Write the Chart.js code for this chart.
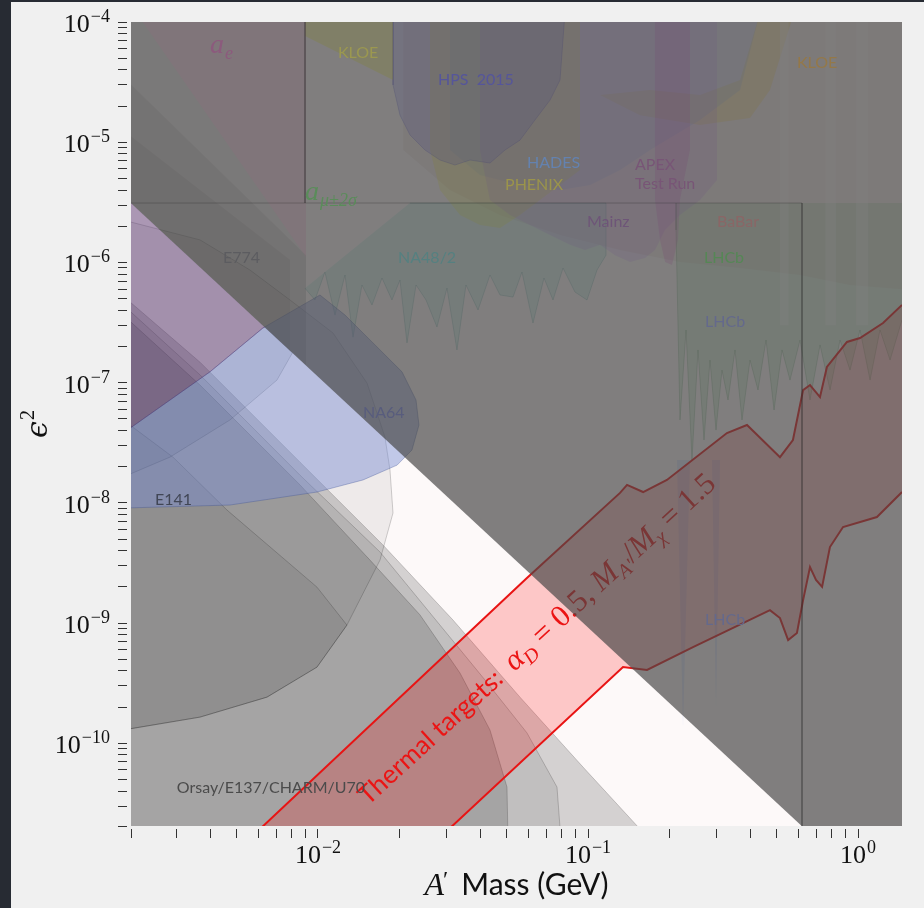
<!DOCTYPE html>
<html>
<head>
<meta charset="utf-8">
<script src="https://cdn.jsdelivr.net/npm/chart.js@4.4.1/dist/chart.umd.min.js"></script>
<style>
  html, body { margin: 0; padding: 0; background: #272b33; }
  #wrap { position: absolute; left: 11px; top: 2px; width: 913px; height: 906px; background: #f0f0f0; }
</style>
</head>
<body>
<div id="wrap"><canvas id="chart" width="913" height="906"></canvas></div>
<script>
// axis ranges (GeV, epsilon^2)
const xMin = 0.00203, xMax = 1.455;
const yMin = 2.05e-11, yMax = 1e-4;

// tick positions
const xTickExps = [-3, -2, -1, 0];
const yTickExps = [-11, -10, -9, -8, -7, -6, -5, -4];
const minorSteps = [1, 2, 3, 4, 5, 6, 7, 8, 9];
const xLabelExps = [-2, -1, 0];
const yLabelExps = [-10, -9, -8, -7, -6, -5, -4];

// upper excluded regions (under the shading)
const babar = [[0.0207,8.61e-6],[0.03083,4.0e-6],[0.04721,2.48e-6],[0.07877,1.69e-6],[0.1314,1.27e-6],[0.2191,1.01e-6],[0.3656,8.98e-7],[0.6097,7.86e-7],[0.9341,6.49e-7],[1.6,5.89e-7],[1.6,1.2e-4],[0.0207,1.2e-4]];
const na48 = [[0.008952,6.1e-7],[0.009747,4.87e-7],[0.01061,8.32e-7],[0.01156,3.65e-7],[0.01259,7.86e-7],[0.01348,2.39e-7],[0.01455,6.49e-7],[0.01585,4.42e-7],[0.01726,7.42e-7],[0.01879,4.87e-7],[0.02012,7.14e-7],[0.02136,2.14e-7],[0.02307,6.49e-7],[0.02512,4.87e-7],[0.02758,2.90e-7],[0.03004,6.12e-7],[0.03271,1.87e-7],[0.03532,6.49e-7],[0.03915,4.02e-7],[0.04335,7.86e-7],[0.04721,5.36e-7],[0.05275,5.15e-7],[0.05695,8.32e-7],[0.06255,3.13e-7],[0.06871,7.42e-7],[0.0742,4.87e-7],[0.08081,8.98e-7],[0.0895,5.67e-7],[0.09915,4.87e-7],[0.108,8.65e-7],[0.1166,1.15e-6],[0.1166,3.12e-6],[0.02191,3.12e-6]];
const lhcb = [[0.2118,3.12e-6],[0.2118,1.86e-6],[0.2191,4.89e-8],[0.2307,2.74e-7],[0.2427,2.27e-8],[0.2555,1.87e-7],[0.2689,3.33e-8],[0.2830,1.54e-7],[0.2979,4.03e-8],[0.3135,1.27e-7],[0.3300,7.17e-8],[0.3503,1.87e-7],[0.3718,4.89e-8],[0.3981,1.54e-7],[0.4262,8.68e-8],[0.4564,2.26e-7],[0.4886,5.92e-8],[0.5231,1.87e-7],[0.5598,1.05e-7],[0.6097,2.26e-7],[0.6640,7.17e-8],[0.7234,2.06e-7],[0.7877,8.68e-8],[0.8577,2.26e-7],[0.9341,1.27e-7],[1.017,2.74e-7],[1.108,1.05e-7],[1.206,2.74e-7],[1.314,1.54e-7],[1.455,3.32e-7],[1.6,3.32e-7],[1.6,3.12e-6]];
const lhcbLowA = [[0.2136,2.27e-8],[0.2248,1.37e-10],[0.2386,2.27e-8]];
const lhcbLowB = [[0.2879,2.27e-8],[0.2979,2.0e-10],[0.3083,2.27e-8]];
const kloeRight = [[0.1108,2.47e-5],[0.1558,1.68e-5],[0.26,1.39e-5],[0.3981,1.59e-5],[0.4721,2.72e-5],[0.58,1.2e-4],[0.4335,1.2e-4],[0.3656,3.29e-5],[0.26,2.47e-5],[0.1697,2.72e-5]];
const hades = [[0.03083,1.2e-4],[0.03083,8.61e-6],[0.03981,5.34e-6],[0.05598,4.40e-6],[0.07877,4.0e-6],[0.1017,4.40e-6],[0.1314,5.87e-6],[0.1697,8.61e-6],[0.26,1.53e-5],[0.3656,2.72e-5],[0.4335,1.2e-4]];
const phenix = [[0.026,1.2e-4],[0.026,8.61e-6],[0.0283,4.0e-6],[0.03357,2.48e-6],[0.03981,2.05e-6],[0.04721,1.93e-6],[0.05598,2.48e-6],[0.0664,3.3e-6],[0.09341,5.87e-6],[0.09341,1.2e-4]];
const mainz = [[0.03981,1.2e-4],[0.03981,8.61e-6],[0.04335,3.30e-6],[0.05141,2.48e-6],[0.06097,2.05e-6],[0.07234,1.69e-6],[0.08577,1.40e-6],[0.09747,1.27e-6],[0.1108,1.40e-6],[0.1259,1.15e-6],[0.1431,1.01e-6],[0.1626,1.09e-6],[0.1770,1.27e-6],[0.1929,1.86e-6],[0.2191,2.48e-6],[0.26,3.30e-6],[0.3004,4.85e-6],[0.3004,1.2e-4]];
const apex = [[0.1770,1.2e-4],[0.1770,3.30e-6],[0.1848,1.54e-6],[0.1929,1.01e-6],[0.2047,9.51e-7],[0.2154,1.54e-6],[0.2191,3.30e-6],[0.2386,8.61e-6],[0.2386,1.2e-4]];
const hps = [[0.01896,1.2e-4],[0.01896,2.99e-5],[0.02012,1.68e-5],[0.02191,1.15e-5],[0.0249,8.61e-6],[0.0283,7.11e-6],[0.03216,6.46e-6],[0.03656,7.11e-6],[0.04335,6.71e-6],[0.04928,8.61e-6],[0.05598,1.04e-5],[0.06362,1.53e-5],[0.07234,2.24e-5],[0.07877,3.29e-5],[0.0822,1.2e-4]];
const kloeLeft = [[0.008952,1.2e-4],[0.01896,1.2e-4],[0.01896,3.29e-5],[0.008952,7.65e-5]];
const stripA = [[0.514,1.2e-4],[0.514,3.0e-7],[0.553,3.0e-7],[0.553,1.2e-4]];
const stripB = [[0.757,1.2e-4],[0.757,3.0e-7],[0.828,3.0e-7],[0.828,1.2e-4]];
const stripC = [[0.984,1.2e-4],[0.984,3.0e-7],[1.09,3.0e-7],[1.09,1.2e-4]];
const aE = [[0.00212,1.2e-4],[0.009028,1.2e-4],[0.009028,1.11e-6]];
const tlA = [[0.0019,1.2e-4],[0.00212,1.2e-4],[0.009028,1.11e-6],[0.009028,1.40e-7],[0.0019,3.58e-6]];
const tlB = [[0.0019,3.49e-5],[0.009028,1.15e-6],[0.009028,1.40e-7],[0.0019,3.58e-6]];
const tlC = [[0.0019,1.26e-5],[0.007877,1.05e-6],[0.007877,1.83e-7],[0.0019,3.58e-6]];

// beam dump regions (lower left)
const dumpOuter = [[0.0019,5.25e-7],[0.003656,1.48e-7],[0.008577,2.18e-8],[0.0174,4.46e-9],[0.03162,1.06e-9],[0.05598,2.42e-10],[0.09583,6.34e-11],[0.1697,1.57e-11],[0.0019,1.57e-11]];
const dumpMid = [[0.0019,4.42e-7],[0.003656,1.16e-7],[0.008577,1.70e-8],[0.01697,3.90e-9],[0.0283,9.62e-10],[0.04155,3.36e-10],[0.05942,1.22e-10],[0.07677,4.32e-11],[0.0794,1.57e-11],[0.0019,1.57e-11]];
const dumpInner = [[0.0019,3.65e-7],[0.003656,9.55e-8],[0.008577,1.41e-8],[0.01558,3.34e-9],[0.02386,1.17e-9],[0.03357,3.84e-10],[0.04335,1.29e-10],[0.05012,4.32e-11],[0.05055,1.57e-11],[0.0019,1.57e-11]];
const arc = [[0.0019,1.29e-10],[0.003656,1.65e-10],[0.006474,2.42e-10],[0.009915,4.30e-10],[0.0128,9.62e-10],[0.01697,3.34e-9],[0.01896,8.23e-9],[0.01848,1.87e-8],[0.0177,3.53e-8],[0.01519,9.92e-8],[0.01136,2.59e-7],[0.007877,4.87e-7],[0.005598,8.65e-7],[0.003656,1.54e-6],[0.0019,2.25e-6]];
const e141 = [[0.0019,4.89e-8],[0.002904,2.40e-8],[0.004603,8.71e-9],[0.009915,1.99e-9],[0.0128,9.62e-10],[0.009915,4.30e-10],[0.006474,2.42e-10],[0.003656,1.65e-10],[0.0019,1.29e-10]];
const e774 = [[0.0019,1.64e-8],[0.00283,2.40e-8],[0.004721,4.89e-8],[0.007049,1.05e-7],[0.008043,1.77e-7],[0.0019,3.58e-6]];
const na64 = [[0.0019,9.05e-9],[0.004721,9.59e-9],[0.009915,1.23e-8],[0.01468,1.55e-8],[0.01963,2.06e-8],[0.02229,2.75e-8],[0.02366,4.44e-8],[0.02307,7.17e-8],[0.02047,1.23e-7],[0.01626,2.06e-7],[0.01259,3.65e-7],[0.01017,5.36e-7],[0.006254,2.85e-7],[0.003981,1.23e-7],[0.0019,3.81e-8]];
const lilac = [[0.0019,3.58e-6],[0.0019,3.81e-8],[0.003981,1.23e-7],[0.006254,2.85e-7],[0.00635,2.89e-7]];

// thermal target band
const thermalUpper = [[0.006,1.87e-11],[0.0594,2.37e-9],[0.1314,1.21e-8],[0.1395,1.41e-8],[0.160,1.23e-8],[0.196,1.55e-8],[0.327,3.81e-8],[0.388,4.44e-8],[0.514,2.40e-8],[0.574,3.33e-8],[0.626,8.67e-8],[0.664,9.55e-8],[0.723,7.59e-8],[0.767,1.35e-7],[0.910,2.18e-7],[1.017,2.35e-7],[1.238,3.13e-7],[1.455,4.43e-7],[1.6,5.2e-7]];
const thermalLower = [[0.03,1.86e-11],[0.1348,4.31e-10],[0.1654,4.07e-10],[0.2448,6.31e-10],[0.472,1.28e-9],[0.514,1.10e-9],[0.551,7.22e-10],[0.594,8.26e-10],[0.626,1.55e-9],[0.664,2.92e-9],[0.699,2.28e-9],[0.736,2.0e-9],[0.787,4.29e-9],[0.880,6.29e-9],[1.175,7.62e-9],[1.455,1.23e-8],[1.6,1.45e-8]];

// shaded (already excluded) area and its outline
const shade = [[0.0019,3.58e-6],[0.65,1.85e-11],[1.6,1.5e-11],[1.6,2e-4],[0.0019,2e-4]];
const boxEdge = [[0.0019,3.12e-6],[0.6202,3.12e-6],[0.6202,1.5e-11]];
const boxLeft = [[0.008952,1.2e-4],[0.008952,3.12e-6]];

const regionLabels = [
  { text: 'KLOE', x: 0.01186, y: 5.02e-5, color: 'rgb(155,152,80)' },
  { text: 'HPS  2015', x: 0.02782, y: 2.99e-5, color: 'rgb(85,85,155)' },
  { text: 'HADES', x: 0.05942, y: 6.10e-6, color: 'rgb(100,130,175)' },
  { text: 'PHENIX', x: 0.04928, y: 4.0e-6, color: 'rgb(155,148,75)' },
  { text: 'APEX', x: 0.1493, y: 5.87e-6, color: 'rgb(120,85,118)' },
  { text: 'Test Run', x: 0.1493, y: 4.08e-6, color: 'rgb(120,85,118)' },
  { text: 'Mainz', x: 0.09915, y: 1.97e-6, color: 'rgb(110,85,120)' },
  { text: 'BaBar', x: 0.3004, y: 1.97e-6, color: 'rgb(138,102,102)' },
  { text: 'LHCb', x: 0.2689, y: 9.89e-7, color: 'rgb(85,135,85)' },
  { text: 'KLOE', x: 0.5943, y: 4.14e-5, color: 'rgb(148,120,72)' },
  { text: 'LHCb', x: 0.2713, y: 2.90e-7, color: 'rgb(100,105,140)' },
  { text: 'E774', x: 0.004446, y: 9.89e-7, color: 'rgb(92,92,96)' },
  { text: 'NA48/2', x: 0.01979, y: 9.89e-7, color: 'rgb(85,128,128)' },
  { text: 'NA64', x: 0.01468, y: 5.08e-8, color: 'rgb(88,92,125)' },
  { text: 'E141', x: 0.00249, y: 9.59e-9, color: 'rgb(65,70,85)' },
  { text: 'LHCb', x: 0.2713, y: 9.62e-10, color: 'rgb(100,105,140)' },
  { text: 'Orsay/E137/CHARM/U70', x: 0.003, y: 3.85e-11, color: 'rgb(75,75,75)', size: 16 }
];
const mathLabels = [
  { base: 'a', sub: 'e', x: 0.003981, y: 5.52e-5, color: 'rgb(140,90,125)' },
  { base: 'a', sub: 'μ±2σ', x: 0.008952, y: 3.30e-6, color: 'rgb(90,140,90)' }
];
const thermalAnchor = [0.01531, 3.0e-11];
const thermalRuns = [
  ['Thermal targets:  ', '26px Lato', 0],
  ['α', 'italic 31px "Liberation Serif"', 0],
  ['D', 'italic 20px "Liberation Serif"', 6],
  [' = 0.5, ', '31px "Liberation Serif"', 0],
  ['M', 'italic 31px "Liberation Serif"', 0],
  ['A′', 'italic 20px "Liberation Serif"', 6],
  ['/', '31px "Liberation Serif"', 0],
  ['M', 'italic 31px "Liberation Serif"', 0],
  ['χ', 'italic 20px "Liberation Serif"', 6],
  [' = 1.5', '31px "Liberation Serif"', 0]
];

function tickValues(exps, lo, hi) {
  const vals = [lo];
  exps.forEach(e => minorSteps.forEach(m => vals.push(m * Math.pow(10, e))));
  return vals.filter(v => v >= lo * 0.999 && v <= hi * 1.001);
}
const xTicks = tickValues(xTickExps, xMin, xMax);
const yTicks = tickValues(yTickExps, yMin, yMax);

function region(data, fill, border) {
  return { data, showLine: true, fill: 'shape', backgroundColor: fill,
    borderColor: border || 'rgba(0,0,0,0)', borderWidth: 1, pointRadius: 0, tension: 0 };
}
function curve(data, color, width) {
  return { data, showLine: true, fill: false, borderColor: color, borderWidth: width,
    backgroundColor: 'rgba(0,0,0,0)', pointRadius: 0, tension: 0 };
}

const grayEdge = 'rgba(0,0,0,0.18)';
const layers = [
  region(babar, 'rgba(200,150,140,0.14)'),
  region(na48, 'rgba(90,210,190,0.2)', 'rgba(60,140,130,0.25)'),
  region(lhcb, 'rgba(110,200,120,0.22)', 'rgba(60,130,70,0.25)'),
  region(lhcbLowA, 'rgba(170,190,255,0.3)'),
  region(lhcbLowB, 'rgba(170,190,255,0.3)'),
  region(kloeRight, 'rgba(255,210,0,0.2)'),
  region(hades, 'rgba(130,170,255,0.2)'),
  region(phenix, 'rgba(255,255,0,0.22)'),
  region(mainz, 'rgba(190,110,255,0.18)'),
  region(apex, 'rgba(230,60,200,0.2)'),
  region(hps, 'rgba(90,90,255,0.22)', 'rgba(60,60,200,0.25)'),
  region(kloeLeft, 'rgba(255,255,0,0.3)'),
  region(stripA, 'rgba(255,255,255,0.35)'),
  region(stripB, 'rgba(255,255,255,0.35)'),
  region(stripC, 'rgba(255,255,255,0.35)'),
  region(aE, 'rgba(255,150,200,0.3)'),
  region(tlA, 'rgba(0,0,0,0.07)'),
  region(tlB, 'rgba(0,0,0,0.07)'),
  region(tlC, 'rgba(0,0,0,0.07)'),
  region(dumpOuter, 'rgba(0,0,0,0.16)', grayEdge),
  region(dumpMid, 'rgba(0,0,0,0.085)', grayEdge),
  region(dumpInner, 'rgba(0,0,0,0.14)', grayEdge),
  region(arc, 'rgba(0,0,0,0.06)', grayEdge),
  region(e141, 'rgba(0,0,0,0.07)', grayEdge),
  region(e774, 'rgba(20,30,60,0.1)', grayEdge),
  region(na64, 'rgba(120,140,210,0.45)', 'rgba(60,80,150,0.35)'),
  region(lilac, 'rgba(100,60,120,0.45)', 'rgba(80,40,100,0.3)'),
  region(thermalUpper.concat(thermalLower.slice().reverse()), 'rgba(255,0,0,0.2)'),
  curve(thermalUpper, 'rgb(232,20,20)', 2),
  curve(thermalLower, 'rgb(232,20,20)', 2),
  region(shade, 'rgba(70,70,70,0.686)'),
  curve(boxEdge, 'rgba(40,40,40,0.28)', 1),
  curve(boxLeft, 'rgba(40,40,40,0.28)', 1)
];
layers.forEach((d, i) => { d.order = layers.length - i; });
const thermalTextAfter = layers.length - 4;

function drawPower(ctx, exp, x, y, align) {
  const sup = exp < 0 ? '\u2212' + (-exp) : String(exp);
  ctx.font = '26px "Liberation Serif"';
  const wb = ctx.measureText('10').width;
  ctx.font = '18px "Liberation Serif"';
  const ws = ctx.measureText(sup).width;
  const left = align === 'right' ? x - wb - ws - 1 : x - (wb + ws + 1) / 2;
  ctx.font = '26px "Liberation Serif"';
  ctx.fillText('10', left, y);
  ctx.font = '18px "Liberation Serif"';
  ctx.fillText(sup, left + wb + 1, y - 10);
}

function drawThermal(chart) {
  const { ctx, chartArea: a, scales } = chart;
  const px = scales.x.getPixelForValue(thermalAnchor[0]);
  const py = scales.y.getPixelForValue(thermalAnchor[1]);
  ctx.save();
  ctx.beginPath();
  ctx.rect(a.left, a.top, a.right - a.left, a.bottom - a.top);
  ctx.clip();
  ctx.translate(px, py);
  ctx.rotate(-42.5 * Math.PI / 180);
  ctx.fillStyle = 'rgb(235,20,20)';
  ctx.textBaseline = 'alphabetic';
  let cx = 0;
  thermalRuns.forEach(([t, font, dy]) => {
    ctx.font = font;
    ctx.fillText(t, cx, dy);
    cx += ctx.measureText(t).width;
  });
  ctx.restore();
}

const decorations = {
  id: 'decorations',
  beforeDraw(chart) {
    const { ctx, chartArea: a } = chart;
    ctx.save();
    ctx.fillStyle = '#fdf9f9';
    ctx.fillRect(a.left, a.top, a.right - a.left, a.bottom - a.top);
    ctx.restore();
  },
  afterDatasetDraw(chart, args) {
    if (args.index === thermalTextAfter) drawThermal(chart);
  },
  afterDraw(chart) {
    const { ctx, chartArea: a, scales } = chart;
    ctx.save();
    ctx.textBaseline = 'alphabetic';
    ctx.fillStyle = '#111';
    yLabelExps.forEach(e => drawPower(ctx, e, a.left - 21, scales.y.getPixelForValue(Math.pow(10, e)) + 10, 'right'));
    xLabelExps.forEach(e => drawPower(ctx, e, scales.x.getPixelForValue(Math.pow(10, e)), a.bottom + 37, 'center'));

    // y title
    ctx.save();
    ctx.translate(36, (a.top + a.bottom) / 2);
    ctx.rotate(-Math.PI / 2);
    ctx.font = 'italic 30px "DejaVu Serif"';
    const we = ctx.measureText('ϵ').width;
    ctx.font = '20px "Liberation Serif"';
    const w2 = ctx.measureText('2').width;
    const sx = -(we + w2 + 1) / 2;
    ctx.font = 'italic 30px "DejaVu Serif"';
    ctx.fillText('ϵ', sx, 0);
    ctx.font = '20px "Liberation Serif"';
    ctx.fillText('2', sx + we + 1, -13);
    ctx.restore();

    // x title
    ctx.font = 'italic 32px "Liberation Serif"';
    const wA = ctx.measureText('A').width;
    ctx.font = '24px "Liberation Serif"';
    const wP = ctx.measureText('′').width;
    ctx.font = '30px Lato';
    const wM = ctx.measureText('Mass (GeV)').width;
    const gap = 12;
    const tx = (a.left + a.right) / 2 - (wA + wP + gap + wM) / 2;
    const ty = a.bottom + 69;
    ctx.font = 'italic 32px "Liberation Serif"';
    ctx.fillText('A', tx, ty);
    ctx.font = '24px "Liberation Serif"';
    ctx.fillText('′', tx + wA - 1, ty - 8);
    ctx.font = '30px Lato';
    ctx.fillText('Mass (GeV)', tx + wA + wP + gap, ty);

    // region labels
    ctx.beginPath();
    ctx.rect(a.left, a.top, a.right - a.left, a.bottom - a.top);
    ctx.clip();
    regionLabels.forEach(l => {
      ctx.font = (l.size || 16) + 'px Lato';
      ctx.fillStyle = l.color;
      ctx.fillText(l.text, scales.x.getPixelForValue(l.x), scales.y.getPixelForValue(l.y));
    });
    mathLabels.forEach(l => {
      const px = scales.x.getPixelForValue(l.x), py = scales.y.getPixelForValue(l.y);
      ctx.fillStyle = l.color;
      ctx.font = 'italic 28px "Liberation Serif"';
      ctx.fillText(l.base, px, py);
      const wb = ctx.measureText(l.base).width;
      ctx.font = 'italic 18px "Liberation Serif"';
      ctx.fillText(l.sub, px + wb + 1, py + 6);
    });
    ctx.restore();
  }
};

new Chart(document.getElementById('chart'), {
  type: 'scatter',
  data: { datasets: layers },
  options: {
    responsive: false,
    animation: false,
    events: [],
    layout: { padding: { top: 20, right: 22, bottom: 0, left: 0 } },
    plugins: { legend: { display: false }, tooltip: { enabled: false } },
    scales: {
      x: {
        type: 'logarithmic', min: xMin, max: xMax,
        afterBuildTicks: s => { s.ticks = xTicks.map(v => ({ value: v })); },
        afterFit: s => { s.height = 82; },
        border: { display: false },
        grid: { drawOnChartArea: false, drawTicks: true, tickLength: 12, tickColor: '#333', tickWidth: 1,
                tickBorderDash: [9, 3], tickBorderDashOffset: 9 },
        ticks: { autoSkip: false, maxRotation: 0, callback: () => '' }
      },
      y: {
        type: 'logarithmic', min: yMin, max: yMax,
        afterBuildTicks: s => { s.ticks = yTicks.map(v => ({ value: v })); },
        afterFit: s => { s.width = 120; },
        border: { display: false },
        grid: { drawOnChartArea: false, drawTicks: true, tickLength: 13, tickColor: '#333', tickWidth: 1,
                tickBorderDash: [9, 10] },
        ticks: { autoSkip: false, callback: () => '' }
      }
    }
  },
  plugins: [decorations]
});
</script>
</body>
</html>
